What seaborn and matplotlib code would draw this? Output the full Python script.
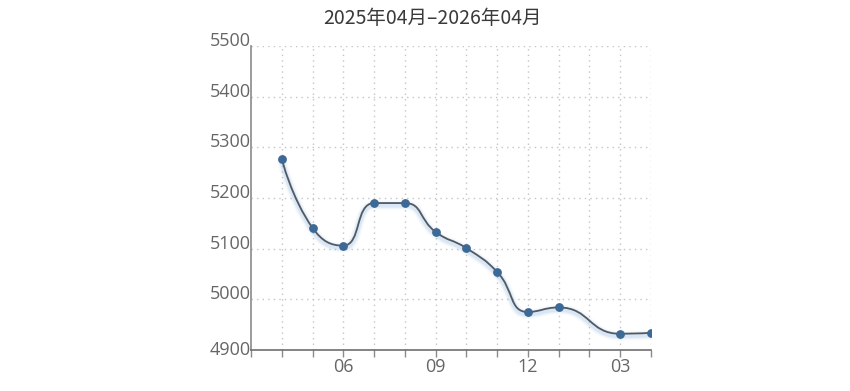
import numpy as np
import pandas as pd
import matplotlib
matplotlib.use("Agg")
import matplotlib.pyplot as plt
import seaborn as sns
from matplotlib.path import Path
from matplotlib.patches import PathPatch
import matplotlib.transforms as mtransforms

# ---- data ----
months = ["2025-04", "2025-05", "2025-06", "2025-07", "2025-08", "2025-09",
          "2025-10", "2025-11", "2025-12", "2026-01", "2026-03", "2026-04"]
prices = [5277, 5141, 5106, 5190, 5190, 5133, 5101, 5054, 4975, 4984, 4932, 4934]
axis_start = "2025-03"
axis_end = "2026-04"
x_label_months = ["2025-06", "2025-09", "2025-12", "2026-03"]
x_tick_labels = ["06", "09", "12", "03"]
y_ticks = [4900, 5000, 5100, 5200, 5300, 5400, 5500]
title = "2025年04月–2026年04月"

start = pd.Period(axis_start, "M")
def midx(m):
    return (pd.Period(m, "M") - start).n

df = pd.DataFrame({"month": months, "price": prices})
df["x"] = df["month"].map(midx)
n_ticks = midx(axis_end)

sns.set_style("white")
plt.rcParams["font.family"] = ["Noto Sans CJK SC", "DejaVu Sans"]

fig = plt.figure(figsize=(8.5, 3.91), dpi=100)
ax = fig.add_axes([251 / 850, 1 - 350 / 391, 400 / 850, 304 / 391])
ax.set_xlim(0, n_ticks)
ax.set_ylim(y_ticks[0], y_ticks[-1])

# grid
grid_kw = dict(color="#c4c4c4", lw=1, linestyle=(0, (1, 3)), zorder=0)
for yv in y_ticks[1:]:
    ax.axhline(yv, **grid_kw)
for xv in range(1, n_ticks + 1):
    ax.axvline(xv, **grid_kw)

# ECharts-5 style smooth line, computed in pixel space
smooth = 0.5
pts = ax.transData.transform(np.column_stack([df["x"], df["price"]]))
verts = [tuple(pts[0])]
codes = [Path.MOVETO]
cpx0, cpy0 = pts[0]
N = len(pts)
for i in range(1, N):
    x, y = pts[i]
    prevX, prevY = pts[i - 1]
    if i == N - 1:
        cpx1, cpy1 = x, y
        ncx, ncy = x, y
    else:
        nextX, nextY = pts[i + 1]
        vx = nextX - prevX
        vy = nextY - prevY
        dx0, dx1 = x - prevX, nextX - x
        dy0, dy1 = y - prevY, nextY - y
        lp = np.hypot(dx0, dy0)
        ln = np.hypot(dx1, dy1)
        r = ln / (ln + lp)
        ncx = x + vx * smooth * r
        ncy = y + vy * smooth * r
        ncx = min(ncx, max(nextX, x)); ncy = min(ncy, max(nextY, y))
        ncx = max(ncx, min(nextX, x)); ncy = max(ncy, min(nextY, y))
        vx, vy = ncx - x, ncy - y
        cpx1 = x - vx * lp / ln
        cpy1 = y - vy * lp / ln
        cpx1 = min(cpx1, max(prevX, x)); cpy1 = min(cpy1, max(prevY, y))
        cpx1 = max(cpx1, min(prevX, x)); cpy1 = max(cpy1, min(prevY, y))
        vx, vy = x - cpx1, y - cpy1
        ncx = x + vx * ln / lp
        ncy = y + vy * ln / lp
    verts += [(cpx0, cpy0), (cpx1, cpy1), (x, y)]
    codes += [Path.CURVE4] * 3
    cpx0, cpy0 = ncx, ncy

inv = ax.transData.inverted()
data_verts = inv.transform(np.array(verts))
path = Path(data_verts, codes)

# shadow
for lw, a in [(7, 0.05), (5, 0.08), (3.5, 0.14)]:
    off = mtransforms.offset_copy(ax.transData, fig=fig, x=0, y=-2, units="dots")
    ax.add_patch(PathPatch(path, facecolor="none", edgecolor="#6f9fd6",
                           lw=lw, alpha=a, transform=off, zorder=2,
                           capstyle="round", joinstyle="round"))
ax.add_patch(PathPatch(path, facecolor="none", edgecolor="#505a64", lw=1.3,
                       zorder=3, capstyle="round", joinstyle="round"))

sns.scatterplot(data=df, x="x", y="price", ax=ax, color="#3d6996", s=40,
                edgecolor="#3d6996", linewidth=0, zorder=4, legend=False)

# axes styling
ax.set_xlabel("")
ax.set_ylabel("")
for s in ["top", "right"]:
    ax.spines[s].set_visible(False)
ax.spines["left"].set_color("#8a8a8a")
ax.spines["bottom"].set_color("#6e6e6e")
ax.spines["left"].set_linewidth(1.2)
ax.spines["bottom"].set_linewidth(1.2)

label_map = {midx(m): t for m, t in zip(x_label_months, x_tick_labels)}
ax.set_xticks(range(0, n_ticks + 1))
ax.set_xticklabels([label_map.get(i, "") for i in range(0, n_ticks + 1)])
ax.tick_params(axis="x", direction="out", length=5, width=1,
               color="#8a8a8a", bottom=True, pad=1, labelsize=13,
               labelcolor="#666666")
for lab in ax.get_xticklabels():
    lab.set_fontfamily(["Open Sans", "DejaVu Sans"])

ax.set_yticks(y_ticks)
ax.set_yticklabels([str(v) for v in y_ticks])
ax.tick_params(axis="y", length=0, pad=0, labelsize=13, labelcolor="#666666")
ylabs = ax.get_yticklabels()
for k, lab in enumerate(ylabs):
    lab.set_fontfamily(["Open Sans", "DejaVu Sans"])
    lab.set_verticalalignment("center" if k == 0 else "baseline")

fig.text(432 / 850, 1 - 18 / 391, title, ha="center", va="center",
         fontsize=14, color="#3a3a3a")

fig.savefig("out.png", dpi=100)
